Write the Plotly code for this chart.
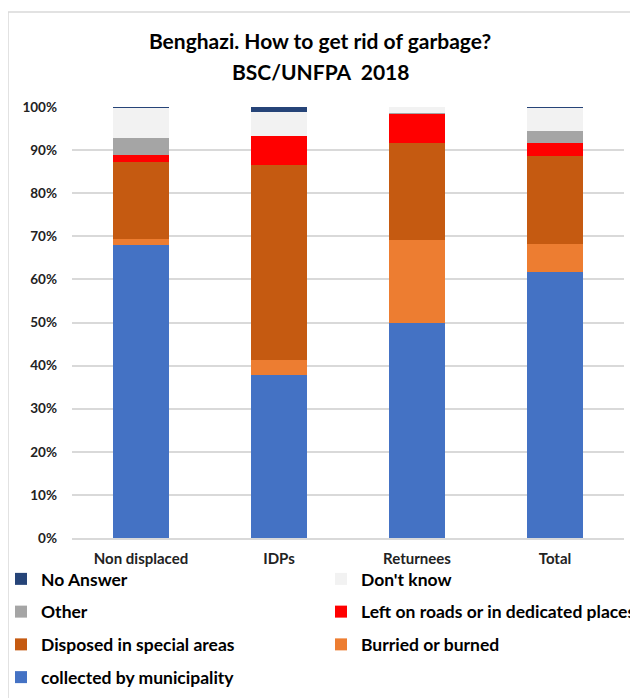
import plotly.graph_objects as go

categories = ["Non displaced", "IDPs", "Returnees", "Total"]

collected_by_municipality = [68.0, 37.9, 50.0, 61.7]
burried_or_burned = [1.4, 3.3, 19.2, 6.5]
disposed_in_special_areas = [17.9, 45.4, 22.5, 20.4]
left_on_roads = [1.6, 6.7, 6.7, 3.1]
other = [4.0, 0.0, 0.3, 2.8]
dont_know = [6.9, 5.6, 1.3, 5.3]
no_answer = [0.2, 1.1, 0.0, 0.2]

title_line1 = "Benghazi. How to get rid of garbage?"
title_line2 = "BSC/UNFPA  2018"

# (name, values, colour, legend column, rank within column)
series = [
    ("collected by municipality", collected_by_municipality, "#4472C4", "legend", 4),
    ("Burried or burned", burried_or_burned, "#ED7D31", "legend2", 3),
    ("Disposed in special areas", disposed_in_special_areas, "#C55A11", "legend", 3),
    ("Left on roads or in dedicated places", left_on_roads, "#FF0000", "legend2", 2),
    ("Other", other, "#A5A5A5", "legend", 2),
    ("Don't know", dont_know, "#F2F2F2", "legend2", 1),
    ("No Answer", no_answer, "#264478", "legend", 1),
]

FONT = "Lato, 'Open Sans', Arial, sans-serif"

fig = go.Figure()
for name, vals, color, leg, rank in series:
    fig.add_trace(go.Bar(
        x=categories, y=vals, name=name, legend=leg, legendgroup=name,
        legendrank=rank,
        marker=dict(color=color, line=dict(width=0)),
    ))

# page offset (browser body margin) compensation
OFF = 8
W, H = 638, 698
ml = 72 - OFF
mt = 107 - OFF
mr = W - (624 - OFF)
mb = H - (538 - OFF)
pw = W - ml - mr
ph = H - mt - mb

def px_x(x):
    return (x - OFF - ml) / pw

def px_y(y):
    return (H - mb - (y - OFF)) / ph

legend_common = dict(
    orientation="v",
    traceorder="grouped",
    tracegroupgap=7,
    yanchor="top",
    xanchor="left",
    font=dict(size=17.5, family=FONT, color="#000000", weight="bold"),
    bgcolor="rgba(0,0,0,0)",
)

fig.update_layout(
    width=W, height=H,
    margin=dict(l=ml, r=mr, t=mt, b=mb, autoexpand=False),
    barmode="stack",
    bargap=0.6,
    plot_bgcolor="white",
    paper_bgcolor="white",
    font=dict(family=FONT, color="#222222"),
    title=dict(
        text="<b>" + title_line1 + "</b>",
        x=(320 - OFF) / W, xanchor="center", xref="container",
        y=1 - (42 - OFF) / H, yanchor="middle", yref="container",
        font=dict(size=21, color="#000000", family=FONT),
    ),
    annotations=[dict(
        text="<b>" + title_line2 + "</b>",
        xref="paper", yref="paper", x=px_x(320), y=px_y(71.5),
        xanchor="center", yanchor="middle", showarrow=False,
        font=dict(size=21, color="#000000", family=FONT),
    )],
    xaxis=dict(
        showgrid=False, showline=True, linecolor="#d9d9d9", linewidth=1.5,
        ticks="", tickfont=dict(size=15, family=FONT, color="#222222", weight="bold"),
        ticklabelstandoff=6,
    ),
    yaxis=dict(
        range=[0, 100], dtick=10, ticksuffix="%",
        showgrid=True, gridcolor="#d9d9d9", gridwidth=1.5,
        zeroline=False, showline=False,
        tickfont=dict(size=13.5, family=FONT, color="#222222", weight="bold"),
        ticklabelstandoff=14,
    ),
    legend=dict(legend_common, x=px_x(1), y=px_y(561)),
    legend2=dict(legend_common, x=px_x(321), y=px_y(561)),
    showlegend=True,
    shapes=[dict(
        type="rect", xref="paper", yref="paper",
        x0=px_x(8), x1=px_x(720), y0=px_y(12), y1=px_y(780),
        line=dict(color="#d9d9d9", width=1.5), fillcolor="rgba(0,0,0,0)",
        layer="below",
    )],
)

fig.write_html("out.html")
